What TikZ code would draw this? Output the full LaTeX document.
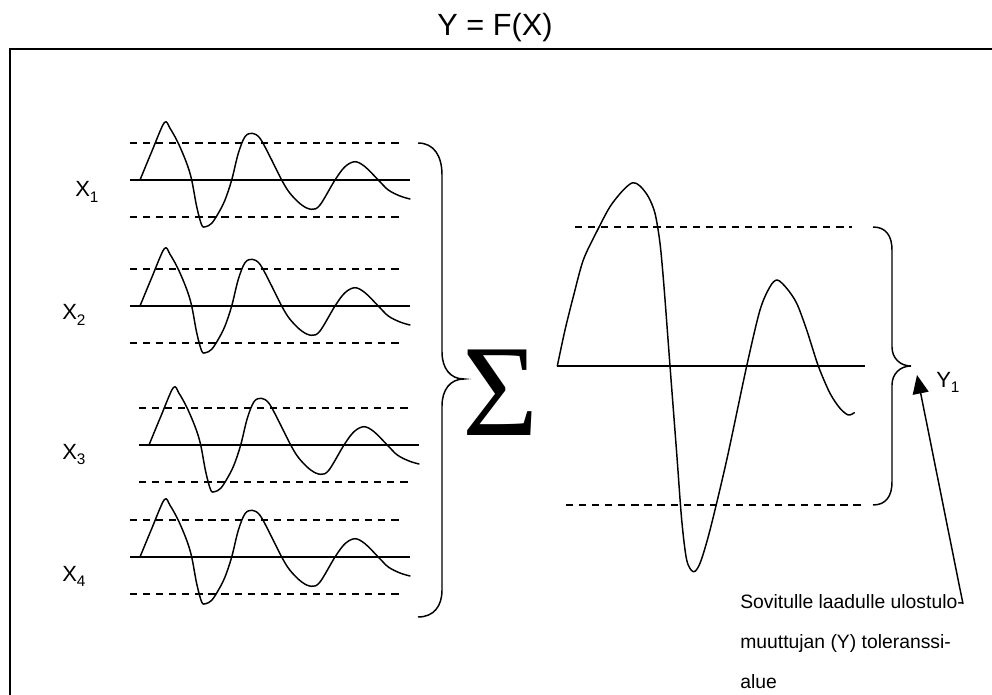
\documentclass[tikz,border=0pt]{standalone}
\usepackage{fontspec}
\setmainfont{Liberation Sans}
\newfontfamily\serifgreek{Liberation Serif}
\usetikzlibrary{arrows.meta}
\tikzset{
  wave/.style={line width=1.1pt, line join=round, line cap=round},
  axisline/.style={line width=1.1pt},
  tolline/.style={line width=1.1pt, dash pattern=on 5.4pt off 4.4pt},
  bracepath/.style={line width=1.1pt},
  lbl/.style={font=\fontsize{16.5}{19}\selectfont, inner sep=0pt, anchor=base west},
  framebox/.style={line width=1.6pt},
}
\newcommand\xsignal[2]{%
  \draw[axisline] (#1-10,#2) -- (#1+270,#2);
  \draw[tolline] (#1-10,#2-37) -- (#1+263,#2-37);
  \draw[tolline] (#1-10,#2+37) -- (#1+263,#2+37);
  \begin{scope}[shift={(#1,#2)}]
    \draw[wave] plot[smooth,tension=0.55] coordinates {
      (0,0) (11.7,-28.3) (24.3,-57.3) (30,-51.7) (38.3,-36.7) (46.7,-16.7)
      (51.7,0) (56.7,26.7) (61.7,45) (65.7,46.7) (71.7,43.3) (78.3,33.3)
      (85,20) (91.7,0) (98.3,-26.7) (105,-43.3) (112.3,-46.7) (120,-41.7)
      (130,-23.3) (141.7,0) (150,13.3) (161.7,25) (171.7,29.3) (180,25)
      (195,0) (205,-13.3) (215,-18.3) (225,-13.3) (238.3,0) (248.3,10)
      (260,16) (270,19)};
  \end{scope}
}
\newcommand\sublbl[1]{\raisebox{-0.25em}{\fontsize{11.5}{13}\selectfont #1}}
\begin{document}
\begin{tikzpicture}[x=0.75pt, y=-0.75pt]
  \clip (0,0) rectangle (992,695);
  \useasboundingbox (0,0) rectangle (992,695);

  % frame
  \draw[framebox] (10,720) -- (10,49) -- (1010,49);

  % title
  \node[font=\fontsize{23}{27}\selectfont, anchor=base, inner sep=0pt] (title) at (495,36) {Y = F(X)};

  % input signals
  \xsignal{140}{180}
  \xsignal{140}{306}
  \xsignal{149}{445}
  \xsignal{140}{557}

  \node[lbl] (x1) at (75,197) {X\sublbl{1}};
  \node[lbl] (x2) at (62,320) {X\sublbl{2}};
  \node[lbl] (x3) at (62,459) {X\sublbl{3}};
  \node[lbl] (x4) at (62,581) {X\sublbl{4}};

  % left brace
  \draw[bracepath] (418,143) .. controls (434,143) and (442,156) .. (442,175)
    -- (442,352) .. controls (442,368) and (450,379) .. (464,379)
    .. controls (450,379) and (442,390) .. (442,406)
    -- (442,590) .. controls (442,606) and (434,617) .. (418,617);

  % sigma
  \node[font=\serifgreek\fontsize{98}{104}\selectfont, anchor=base, inner sep=0pt] (sum) at (501,435) {Σ};

  % output signal
  \draw[axisline] (557,366) -- (865,366);
  \draw[tolline] (575,227) -- (852,227);
  \draw[tolline] (566,505) -- (866,505);
  \draw[wave] plot[smooth,tension=0.5] coordinates {
    (557.3,366) (565,330) (573.3,296.7) (583.3,260) (596.7,231.7) (610,206.7)
    (623.3,190) (632.7,182.7) (640,186) (648.3,196.7) (655,213.3) (660,243.3)
    (664,286.7) (670,366) (676.7,453.3) (681.7,520) (686.7,560) (693.3,571.7)
    (700,563.3) (710,530) (726.7,460) (746.7,366) (760,310) (770,286.7)
    (777.3,280) (786.7,288.3) (796.7,303.3) (806.7,330) (818.3,366) (830,393.3)
    (840,408.3) (848.3,415) (854.3,412.7)};

  % right brace
  \draw[bracepath] (873,227) .. controls (886,227) and (892,236) .. (892,250)
    -- (892,347) .. controls (892,358) and (900,366) .. (911,366)
    .. controls (900,366) and (892,374) .. (892,385)
    -- (892,482) .. controls (892,496) and (886,505) .. (873,505);

  \node[lbl] (y1) at (936,387) {Y\sublbl{1}};

  % note and arrow
  \node[anchor=base west, align=left, inner sep=0pt, font=\fontsize{14.5}{30}\selectfont] (note) at (740,688)
    {Sovitulle laadulle ulostulo-\\muuttujan (Y) toleranssi-\\alue};
  \coordinate (tail) at (963,604);
  \coordinate (tip) at (917,375);
  \draw[line width=1.1pt, -{Triangle[length=14pt,width=12pt]}] (tail) -- (tip);
\end{tikzpicture}
\end{document}
